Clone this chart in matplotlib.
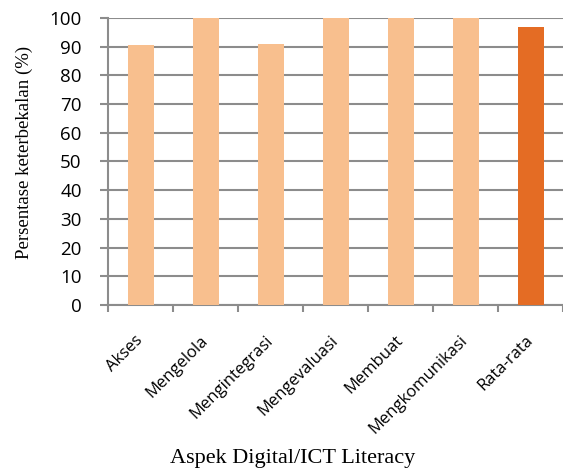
import matplotlib.pyplot as plt
import numpy as np

categories = ["Akses", "Mengelola", "Mengintegrasi", "Mengevaluasi",
              "Membuat", "Mengkomunikasi", "Rata-rata"]
values = [90.6, 100, 91.0, 100, 100, 100, 96.8]

light = "#F8BF8E"
dark = "#E46C24"
grid_c = "#8C8C8C"

fig = plt.figure(figsize=(5.63, 4.70), dpi=100)
ax = fig.add_axes([0.192, 0.351, 0.808, 0.611])

x = np.arange(len(categories))
colors = [light] * (len(categories) - 1) + [dark]
ax.bar(x, values, width=0.4, color=colors, zorder=3)

ax.set_xlim(-0.5, len(categories) - 0.5)
ax.set_ylim(0, 100)
ax.set_yticks(np.arange(0, 101, 10))
ax.yaxis.grid(True, color=grid_c, linewidth=1.5, zorder=0)
ax.set_axisbelow(True)

for s in ["top", "right"]:
    ax.spines[s].set_visible(False)
for s in ["left", "bottom"]:
    ax.spines[s].set_color(grid_c)
    ax.spines[s].set_linewidth(1.5)

# ticks on category boundaries, labels centred on bars
ax.set_xticks(np.arange(-0.5, len(categories), 1.0))
ax.set_xticklabels([])
ax.set_xticks(x, minor=True)
ax.set_xticklabels(categories, minor=True, rotation=45, ha="right",
                   va="center", rotation_mode="anchor",
                   fontsize=12, family="Open Sans")
ax.tick_params(axis="x", which="major", length=5, color=grid_c, width=1.5)
ax.tick_params(axis="x", which="minor", length=0, pad=24)
ax.tick_params(axis="y", length=6, color=grid_c, width=1.5, pad=13,
               labelsize=13.5)
for t in ax.get_yticklabels():
    t.set_family("Open Sans")

ax.set_ylabel("Persentase keterbekalan (%)", family="Liberation Serif",
              fontsize=13.5)
ax.yaxis.set_label_coords(-0.165, 0.53)
fig.text(0.52, 0.025, "Aspek Digital/ICT Literacy", family="Liberation Serif",
         fontsize=16, ha="center", va="center")

fig.savefig("out.png", dpi=100)
